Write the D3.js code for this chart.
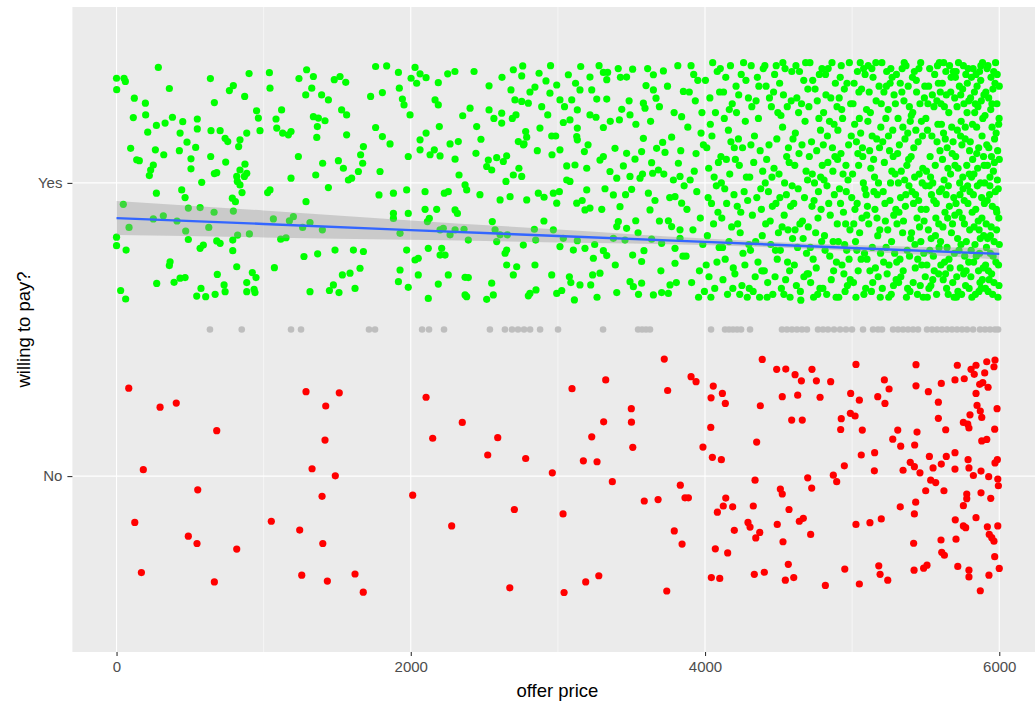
<!DOCTYPE html>
<html>
<head>
<meta charset="utf-8">
<script src="https://cdn.jsdelivr.net/npm/d3@7"></script>
<style>
  body { margin: 0; background: #ffffff; }
  svg { display: block; font-family: "Liberation Sans", Arial, sans-serif; }
</style>
</head>
<body>
<svg id="chart" width="1035" height="703"></svg>
<script>
// ---- values ----
const priceTicks = [0, 2000, 4000, 6000];
const priceMinor = [1000, 3000, 5000];
const answerLevels = ["No", "Yes"];   // drawn at 1 and 2
const midLevel = 1.5;

// grey row of offers between the two answers
const midPrices = [635, 851, 1186, 1254, 1716, 1757, 2077, 2124, 2226, 2538, 2640, 2688, 2729, 2770, 2811,
  2879, 3001, 3307, 3545, 3572, 3599, 3626, 4041, 4136, 4163, 4190, 4218, 4245, 4306, 4523, 4557, 4591,
  4625, 4659, 4693, 4768, 4802, 4836, 4877, 4918, 4958, 4999, 5074, 5142, 5176, 5203, 5278, 5312, 5346,
  5380, 5414, 5448, 5509, 5543, 5577, 5611, 5645, 5679, 5713, 5747, 5781, 5822, 5869, 5903, 5937, 5971, 5992];

// [offer price, jittered answer] for the "No" answers
const noPoints = [
  [83,1.300],[296,1.235],[406,1.249],[681,1.155],[182,1.022],[552,0.953],[124,0.842],[488,0.795],[547,0.770],[817,0.751],[169,0.671],[665,0.639],
  [1288,1.288],[1514,1.284],[1422,1.239],[1417,1.123],[1329,1.025],[1487,1.001],[1397,0.931],[1052,0.846],[1245,0.816],[1402,0.770],[1259,0.662],[1433,0.642],
  [2104,1.269],[2350,1.183],[2149,1.129],[2591,1.131],[2523,1.072],[2781,1.060],[2962,1.011],[3096,1.298],[3325,1.328],[3311,1.185],[3230,1.134],
  [3173,1.052],[3266,1.049],[3499,1.230],[3500,1.184],[3509,1.098],[3370,0.981],[3723,1.399],[3746,1.292],[3832,0.969],[3864,0.926],[3887,0.926],
  [3587,0.915],[3681,0.920],[2013,0.935],[2704,0.886],[3035,0.871],[2278,0.830],[3791,0.813],[3844,0.768],[1621,0.666],[1677,0.604],[2673,0.619],
  [3042,0.603],[3189,0.639],[3278,0.660],[3740,0.608],
  [3905,1.339],[3939,1.322],[4056,1.307],[4041,1.267],[4118,1.282],[4138,1.248],[4389,1.398],[4376,1.240],[4039,1.166],[3986,1.099],[4050,1.064],
  [4111,1.056],[4351,1.116],[4487,1.364],[4549,1.365],[4612,1.346],[4655,1.325],[4727,1.364],[4757,1.325],[4854,1.322],[4525,1.271],[4630,1.276],
  [4782,1.269],[4589,1.191],[4661,1.191],[5026,1.381],[4990,1.282],[5049,1.259],[5174,1.271],[5219,1.328],[5251,1.297],[5223,1.248],[4926,1.196],
  [4922,1.159],[4988,1.214],[5020,1.205],[5069,1.157],[5310,1.157],[5276,1.126],[5330,1.102],[5434,1.380],[5434,1.308],[5518,1.288],[5606,1.316],
  [5586,1.252],[5586,1.197],[5636,1.158],[5441,1.150],[5425,1.106],[5715,1.378],[5699,1.328],[5762,1.332],[5808,1.364],[5842,1.378],[5830,1.347],
  [5901,1.352],[5915,1.390],[5971,1.396],[5964,1.373],[5867,1.313],[5888,1.319],[5842,1.282],[5924,1.303],[5849,1.241],[5871,1.222],[5881,1.200],
  [5801,1.209],[5756,1.183],[5794,1.164],[5786,1.177],[5985,1.230],[5969,1.160],[5881,1.120],[5915,1.125],[5987,1.056],[5971,1.045],[5062,1.072],
  [5153,1.080],[5151,1.018],[4947,1.035],[5346,1.020],[5395,1.047],[5423,1.032],[5461,1.011],[5525,1.067],[5550,1.028],[5606,1.041],[5640,1.067],
  [5699,1.080],[5699,1.024],[5788,1.056],[5794,1.028],[5824,1.002],[5876,1.017],[5928,0.998],[5990,0.990],[5994,0.967],[5534,0.986],[5568,0.978],
  [5500,0.950],[5624,0.950],[5779,0.939],[5779,0.923],[5876,0.943],[5942,0.924],[4698,0.994],[4725,0.959],[4872,1.003],[4895,0.981],[4340,0.986],
  [4512,0.956],[4525,0.939],[4141,0.925],[4124,0.898],[4084,0.877],[4188,0.895],[4328,0.898],[4571,0.886],[4641,0.846],[4668,0.856],[4491,0.835],
  [4292,0.842],[4306,0.826],[4199,0.815],[4372,0.808],[4345,0.789],[4530,0.776],[4718,0.801],[5327,0.895],[5432,0.911],[5423,0.871],[5026,0.835],
  [5121,0.841],[5198,0.854],[5756,0.899],[5701,0.851],[5756,0.830],[5772,0.824],[5842,0.858],[5919,0.827],[5990,0.830],[5932,0.801],[5949,0.790],
  [5964,0.778],[5604,0.782],[5418,0.771],[5706,0.785],[5609,0.740],[5627,0.730],[5969,0.725],[4070,0.752],[4154,0.738],[4043,0.654],[4100,0.651],
  [4335,0.665],[4403,0.672],[4566,0.699],[4546,0.645],[4603,0.654],[4818,0.627],[4950,0.683],[5049,0.632],[5181,0.694],[5190,0.665],[5242,0.645],
  [5421,0.679],[5486,0.686],[5509,0.696],[5718,0.692],[5794,0.679],[5794,0.656],[5871,0.609],[5930,0.662],[6000,0.685]
];

// [offer price, jittered answer] for the "Yes" answers
const yesPoints = [
  [0,2.357],[51,2.357],[1,2.318],[60,2.346],[284,2.394],[121,2.289],[196,2.272],[114,2.223],[198,2.232],[271,2.196],[330,2.204],[380,2.224],
  [450,2.209],[549,2.218],[549,2.184],[212,2.173],[432,2.170],[638,2.356],[794,2.332],[901,2.373],[1039,2.376],[1043,2.323],[767,2.315],[359,2.322],
  [871,2.295],[665,2.274],[952,2.246],[964,2.221],[1122,2.249],[1084,2.218],[1089,2.187],[1129,2.170],[1168,2.164],[1186,2.175],[975,2.178],
  [885,2.170],[642,2.178],[704,2.178],[738,2.152],[756,2.141],[839,2.147],[830,2.124],[1240,2.356],[1292,2.386],[1338,2.363],[1480,2.352],
  [1519,2.363],[1558,2.343],[1286,2.300],[1327,2.323],[1394,2.300],[1440,2.283],[1530,2.249],[1338,2.226],[1372,2.221],[1417,2.212],[1365,2.192],
  [1361,2.155],[1564,2.164],[1564,2.232],[96,2.118],[137,2.079],[155,2.076],[264,2.113],[321,2.096],[427,2.110],[479,2.139],[538,2.121],[250,2.061],
  [232,2.044],[223,2.025],[506,2.082],[506,2.048],[640,2.090],[742,2.071],[873,2.064],[839,2.044],[885,2.033],[869,2.022],[817,2.022],[821,2.005],
  [839,1.993],[579,2.002],[665,2.032],[681,2.035],[1236,2.090],[1401,2.067],[1508,2.076],[1542,2.050],[1354,2.027],[1186,2.016],[1576,2.010],
  [271,1.965],[443,1.976],[466,1.950],[488,1.914],[568,1.916],[663,1.900],[794,1.904],[787,1.948],[808,1.936],[853,1.967],[1027,1.967],[1043,1.976],
  [1288,1.936],[1440,1.984],[46,1.927],[85,1.848],[250,1.877],[318,1.888],[411,1.870],[627,1.848],[470,1.836],[488,1.807],[568,1.777],[590,1.788],
  [681,1.802],[704,1.794],[790,1.805],[823,1.822],[903,1.826],[1066,1.877],[1175,1.871],[1202,1.885],[1265,1.848],[1315,1.865],[1399,1.840],
  [1116,1.808],[1152,1.813],[0,1.815],[0,1.786],[65,1.771],[790,1.769],[1274,1.749],[1367,1.758],[1485,1.771],[364,1.731],[359,1.718],[817,1.714],
  [923,1.694],[948,1.677],[1073,1.711],[273,1.657],[391,1.661],[432,1.675],[466,1.677],[685,1.688],[574,1.640],[606,1.612],[545,1.614],[670,1.620],
  [731,1.652],[738,1.629],[885,1.660],[885,1.629],[935,1.637],[941,1.626],[1315,1.629],[1474,1.652],[1447,1.633],[1512,1.626],[1535,1.686],
  [28,1.633],[62,1.604],
  [1761,2.397],[1836,2.399],[1916,2.377],[2029,2.394],[2063,2.372],[2104,2.359],[2002,2.357],[2040,2.340],[2187,2.342],[2251,2.372],[1922,2.323],
  [1807,2.308],[1727,2.295],[1943,2.286],[1954,2.266],[2165,2.283],[2187,2.266],[1995,2.232],[2194,2.192],[1761,2.189],[1807,2.158],[1859,2.133],
  [1678,2.124],[1659,2.096],[1673,2.067],[1644,2.039],[1598,2.016],[1791,2.039],[1983,2.090],[2063,2.147],[2104,2.170],[2063,2.113],[2131,2.096],
  [2160,2.113],[2199,2.092],[2267,2.133],[2323,2.141],[2301,2.081],[2353,2.229],[2403,2.255],[2448,2.192],[2477,2.149],[2443,2.101],[2516,2.056],
  [2527,2.078],[2550,2.044],[2584,2.086],[2652,2.092],[2629,2.073],[2618,2.238],[2618,2.204],[2532,2.331],[2532,2.249],[2697,2.386],[2761,2.399],
  [2754,2.365],[2681,2.317],[2708,2.283],[2754,2.278],[2799,2.272],[2715,2.232],[2781,2.175],[2731,2.141],[2765,2.130],[2878,2.187],[2931,2.232],
  [2872,2.374],[2919,2.348],[2844,2.327],[2946,2.306],[2992,2.334],[3071,2.369],[3155,2.397],[3218,2.361],[3150,2.317],[3230,2.317],[3309,2.377],
  [3332,2.352],[3338,2.377],[3264,2.286],[3332,2.286],[3467,2.361],[3508,2.388],[3599,2.332],[3649,2.317],[3667,2.289],[3717,2.382],[3649,2.369],
  [3581,2.272],[3592,2.255],[3434,2.251],[3490,2.232],[3418,2.215],[3309,2.189],[3218,2.232],[3259,2.224],[3132,2.249],[3132,2.187],[3082,2.215],
  [3037,2.206],[3094,2.283],[3014,2.283],[3128,2.158],[3132,2.147],[2958,2.160],[2960,2.096],[3014,2.113],[3060,2.058],[3116,2.061],[3060,2.010],
  [3082,2.005],[3196,2.050],[3180,2.107],[3309,2.090],[3354,2.039],[3286,2.078],[3388,2.118],[3467,2.101],[3445,2.058],[3524,2.081],[3581,2.152],
  [3569,2.107],[3490,2.022],[3400,2.016],[3501,1.978],[3558,2.016],[3637,2.069],[3712,2.138],[3728,2.104],[3773,2.156],[3785,2.010],[3830,2.022],
  [3819,2.067],[3853,2.312],[3841,2.226],[3671,2.118],[3683,2.044],[3644,2.033],[3796,1.953],[3841,1.931],[3751,1.871],[3773,1.851],[3830,1.840],
  [3626,1.908],[3615,1.965],[3422,1.919],[3377,1.959],[3196,1.976],[3218,1.914],[3184,1.908],[3298,1.910],[3128,1.931],[2969,1.965],[2867,1.965],
  [2906,1.951],[2992,1.931],[2788,1.942],[2788,2.156],[2770,2.133],[2697,2.027],[2754,2.022],[2647,2.005],[2675,1.953],[2607,1.942],[2369,1.993],
  [2328,2.027],[2228,1.965],[2255,1.970],[2380,1.976],[2097,1.970],[1972,1.976],[1882,1.965],[1784,1.959],[1882,1.896],[1983,1.896],[1882,1.879],
  [2097,1.910],[2176,1.910],[2301,1.908],[2317,1.896],[2199,1.840],[2126,1.879],[2113,1.868],[2221,1.845],[2267,1.823],[2362,1.842],[2391,1.805],
  [2301,1.840],[2554,1.868],[2573,1.840],[2607,1.823],[2584,1.800],[2656,1.823],[2765,1.788],[2840,1.842],[2849,1.805],[2969,1.840],[3014,1.783],
  [3037,1.811],[3132,1.803],[3105,1.771],[3184,1.777],[3241,1.743],[3309,1.769],[3332,1.752],[3377,1.811],[3411,1.868],[3400,1.851],[3467,1.845],
  [3529,1.871],[3456,1.805],[3508,1.754],[3585,1.769],[3637,1.808],[3569,1.732],[3830,1.811],[3796,1.777],[3705,1.794],[3796,1.726],[3762,1.652],
  [3751,1.623],[3705,1.626],[3649,1.618],[3569,1.658],[3513,1.646],[3490,1.663],[3400,1.626],[3286,1.692],[3236,1.686],[3223,1.652],[3150,1.652],
  [3112,1.601],[3078,1.680],[3026,1.633],[2992,1.623],[2958,1.686],[2851,1.635],[2810,1.623],[2799,1.615],[2844,1.720],[2720,1.714],[2652,1.771],
  [2652,1.720],[2641,1.760],[2697,1.686],[2550,1.658],[2516,1.603],[2561,1.618],[2369,1.678],[2391,1.677],[2380,1.612],[2369,1.618],[2255,1.686],
  [2187,1.655],[2210,1.777],[2199,1.754],[2233,1.754],[2119,1.777],[2051,1.743],[2051,1.686],[2029,1.737],[1927,1.703],[1916,1.663],[1983,1.644],
  [2119,1.606],[1655,1.709],[1621,1.640],[1610,1.771],[1587,1.692],[1678,1.766],[1972,1.771],[1927,1.828],
  [2620,2.36],[2690,2.22],[2735,2.05],[2810,2.31],[2860,2.11],[2905,1.87],[2950,2.40],[2985,2.16],[3010,1.97],[3045,2.26],[3088,1.66],[3120,2.34],
  [3165,1.94],[3205,2.13],[3250,1.79],[3280,2.40],[3320,1.98],[3356,2.21],[3390,1.72],[3425,2.36],[3460,1.96],[3484,2.28],[3530,2.20],[3545,1.83],
  [3575,2.03],[3610,2.39],[3630,2.21],[3660,1.94],[3690,2.26],[3700,1.70],[3720,2.03],[3745,2.33],[3760,1.95],[3790,2.24],[3805,1.66],[3815,2.40],
  [3835,2.11],[3850,1.75],[3858,1.99],[3690,1.87],[3548,1.62],[3266,1.61],[3410,2.39],[2890,2.26],[2565,2.22],[2470,1.96],[2430,2.38],[2300,2.38],
  [3934,2.28],[3877,1.91],[3962,1.70],[3905,2.40],[3989,2.13],[3918,1.84],[3883,2.19],[3951,2.35],[3996,1.63],[3927,2.04],[3871,1.75],[3944,1.97],
  [3979,2.24],[3909,1.66],[3893,2.31],[3968,1.88],[3939,2.10],[3985,1.79],[3899,2.01],[3956,1.61],[3923,2.37],[3973,2.17],
  [4047,2.16],[4008,1.72],[4083,2.38],[4021,1.95],[4066,1.64],[4091,2.07],[4033,2.29],[4012,2.12],[4058,1.86],[4077,1.99],[4040,1.61],[4096,1.78],
  [4003,2.35],[4071,2.24],[4027,1.68],[4052,2.41],[4088,1.90],[4016,1.82],[4062,2.02],[4036,2.20],[4081,1.73],[4044,1.93],[4099,2.31],[4025,2.05],
  [4122,1.67],[4185,2.27],[4108,2.09],[4163,1.80],[4141,2.36],[4197,1.96],[4114,1.88],[4176,2.14],[4153,1.62],[4131,2.22],[4192,1.71],[4104,2.39],
  [4168,2.03],[4147,1.93],[4126,2.31],[4181,1.85],[4159,2.18],[4137,1.74],[4111,2.00],[4173,2.40],[4189,1.64],[4145,2.08],[4119,1.78],[4165,2.25],
  [4134,1.98],[4199,2.12],
  [4211,2.33],[4258,1.76],[4233,2.06],[4287,1.61],[4219,1.92],[4274,2.21],[4246,2.37],[4203,1.69],[4266,1.97],[4239,1.83],[4295,2.29],[4227,2.15],
  [4251,1.65],[4281,2.02],[4214,2.24],[4262,2.41],[4243,1.90],[4298,1.79],[4206,2.08],[4271,1.72],[4229,2.30],[4255,2.12],[4290,1.94],[4236,1.62],
  [4278,2.35],[4222,1.86],
  [4304,2.02],[4341,1.68],[4366,2.33],[4318,2.26],[4389,1.82],[4352,1.95],[4327,1.63],[4375,2.11],[4309,1.77],[4396,2.39],[4336,2.16],[4360,1.73],
  [4314,2.40],[4383,1.91],[4347,2.28],[4322,1.89],[4371,1.61],[4392,2.04],[4331,2.07],[4356,2.36],[4301,1.64],[4379,1.98],[4344,1.80],[4363,2.22],
  [4386,1.70],[4312,2.13],
  [4426,1.66],[4473,2.37],[4412,1.86],[4455,2.02],[4491,1.74],[4438,2.29],[4407,2.40],[4482,1.93],[4461,1.62],[4419,2.08],[4447,1.79],[4495,2.24],
  [4431,1.97],[4466,2.31],[4403,1.70],[4488,2.15],[4443,1.87],[4476,1.68],[4415,2.33],[4458,1.92],[4499,1.83],[4435,2.13],[4469,2.05],[4422,1.61],
  [4484,2.40],[4451,2.26],[4409,2.00],[4479,1.77],
  [4538,1.89],[4507,2.34],[4572,2.07],[4519,1.64],[4586,2.28],[4544,2.39],[4561,1.73],[4503,2.03],[4595,1.81],[4527,2.19],[4553,1.96],[4578,1.61],
  [4512,1.77],[4533,2.30],[4567,2.12],[4590,2.38],[4548,1.67],[4516,2.23],[4582,1.92],[4541,2.00],[4598,2.15],[4524,1.85],[4559,2.26],[4509,1.95],
  [4575,1.70],[4536,1.62],[4564,1.84],[4592,1.99],[4529,2.41],[4555,2.09],
  [4614,2.17],[4648,1.63],[4603,1.93],[4671,2.35],[4629,1.78],[4687,2.04],[4656,2.27],[4618,2.40],[4694,1.69],[4639,2.10],[4662,1.87],[4607,1.72],
  [4680,2.21],[4633,1.98],[4651,1.60],[4699,2.32],[4624,2.29],[4667,1.81],[4642,2.38],[4676,1.95],[4610,2.06],[4690,1.76],[4645,1.86],[4621,1.65],
  [4659,2.13],[4684,2.41],[4636,2.24],[4672,1.68],[4697,2.01],[4612,1.84],
  [4706,2.26],[4741,1.94],[4777,2.37],[4718,1.66],[4759,2.11],[4793,1.80],[4729,2.03],[4766,1.62],[4702,1.85],[4748,2.32],[4785,2.18],[4735,1.74],
  [4713,2.41],[4771,1.97],[4756,1.71],[4797,2.06],[4724,2.14],[4789,1.91],[4744,2.00],[4709,2.09],[4763,2.28],[4781,1.64],[4732,2.35],[4752,1.83],
  [4716,1.78],[4774,2.22],[4738,1.61],[4795,2.39],[4727,1.92],[4768,1.88],[4703,1.69],[4786,2.02],
  [4822,2.30],[4858,1.67],[4804,2.13],[4879,1.96],[4837,2.39],[4893,1.73],[4812,1.82],[4846,2.21],[4869,2.04],[4827,1.62],[4886,2.34],[4809,2.01],
  [4851,1.89],[4874,1.70],[4832,2.16],[4897,2.26],[4816,1.77],[4863,2.41],[4841,1.93],[4883,2.09],[4801,1.64],[4855,2.29],[4829,1.99],[4871,1.80],
  [4891,1.61],[4819,2.37],[4848,1.75],[4866,2.12],[4835,2.07],[4877,2.20],[4806,2.24],[4899,1.86],
  [4914,1.98],[4947,2.32],[4968,1.65],[4903,2.18],[4985,1.84],[4926,2.40],[4958,2.06],[4931,1.72],[4990,2.27],[4909,1.61],[4976,2.13],[4941,1.90],
  [4919,2.36],[4963,1.77],[4997,1.95],[4935,2.22],[4952,1.63],[4981,2.41],[4906,1.80],[4972,2.01],[4924,2.10],[4944,1.69],[4994,2.16],[4912,2.29],
  [4956,1.86],[4938,2.03],[4979,1.74],[4921,1.93],[4965,2.34],[4901,2.08],[4949,1.79],[4987,1.67],[4929,2.25],[4960,1.97],
  [5017,2.20],[5061,1.74],[5034,1.93],[5088,2.37],[5009,1.66],[5072,2.09],[5046,2.31],[5023,1.80],[5095,1.96],[5055,2.41],[5003,2.03],[5080,1.62],
  [5029,2.14],[5067,1.88],[5041,1.70],[5098,2.25],[5013,2.34],[5076,2.00],[5051,1.83],[5036,2.38],[5084,1.76],[5019,1.91],[5058,2.17],[5092,1.64],
  [5006,2.27],[5070,2.12],[5044,2.06],[5026,1.61],[5064,2.32],[5086,1.98],[5032,1.77],[5049,2.22],[5011,1.86],[5078,2.39],[5099,1.89],[5039,2.10],
  [5104,1.92],[5142,2.36],[5177,1.68],[5119,2.11],[5163,2.28],[5188,1.84],[5131,1.63],[5152,2.02],[5195,2.19],[5109,2.40],[5171,1.96],[5137,1.78],
  [5183,2.33],[5124,2.24],[5158,1.71],[5146,2.08],[5191,1.61],[5113,1.86],[5167,2.15],[5134,2.39],[5179,2.00],[5101,1.74],[5155,1.91],[5127,2.05],
  [5198,2.27],[5140,1.66],[5174,1.82],[5116,2.31],[5161,2.41],[5186,2.12],[5148,1.97],[5121,1.70],[5169,1.88],[5193,1.76],[5107,2.21],[5136,2.16],
  [5226,1.87],[5263,2.39],[5208,2.14],[5281,1.65],[5245,2.25],[5292,2.03],[5214,1.73],[5257,1.94],[5233,2.33],[5276,2.18],[5202,2.41],[5249,1.61],
  [5268,1.80],[5219,2.07],[5297,1.91],[5238,1.69],[5285,2.30],[5254,2.11],[5211,1.97],[5272,2.36],[5229,2.22],[5289,1.76],[5242,1.84],[5261,2.00],
  [5205,1.64],[5279,2.09],[5235,2.38],[5251,1.72],[5223,1.93],[5294,2.27],[5266,1.62],[5216,2.31],[5247,2.16],[5283,1.89],[5231,1.78],[5270,2.04],
  [5299,1.67],[5258,2.34],
  [5312,2.22],[5347,1.70],[5384,2.08],[5305,1.86],[5366,2.40],[5329,1.95],[5393,1.63],[5338,2.31],[5321,2.13],[5374,1.77],[5357,2.01],[5301,2.37],
  [5389,2.26],[5343,1.83],[5316,1.66],[5362,1.92],[5378,2.17],[5334,2.04],[5398,1.81],[5325,1.74],[5352,2.28],[5369,1.61],[5309,2.10],[5386,1.99],
  [5340,2.39],[5318,1.90],[5359,2.15],[5381,2.33],[5331,1.68],[5395,2.21],[5349,1.87],[5372,2.06],[5303,1.73],[5365,1.96],[5327,2.34],[5390,1.75],
  [5354,2.41],[5314,2.00],[5377,1.64],[5345,2.19],
  [5407,1.97],[5436,2.35],[5473,1.72],[5419,2.12],[5458,1.85],[5491,2.29],[5444,1.62],[5412,2.24],[5480,2.05],[5427,1.79],[5466,2.41],[5401,2.09],
  [5452,1.94],[5497,1.68],[5433,2.18],[5476,2.00],[5415,1.66],[5461,2.27],[5441,1.88],[5487,1.76],[5423,2.38],[5469,1.91],[5404,1.83],[5449,2.14],
  [5494,2.33],[5429,1.71],[5456,2.03],[5483,1.61],[5417,1.93],[5471,2.21],[5438,2.31],[5499,1.99],[5446,1.74],[5410,2.36],[5463,1.65],[5478,2.16],
  [5425,2.02],[5454,2.39],[5489,1.87],[5431,1.96],[5467,1.80],[5402,2.23],
  [5512,2.18],[5548,1.67],[5586,2.34],[5503,1.91],[5565,2.06],[5527,2.39],[5591,1.78],[5539,1.96],[5574,1.62],[5518,1.84],[5556,2.26],[5597,2.11],
  [5533,2.02],[5508,1.72],[5580,2.40],[5545,2.30],[5569,1.88],[5522,1.64],[5594,1.97],[5552,1.75],[5515,2.27],[5577,2.14],[5537,1.81],[5561,2.37],
  [5501,2.22],[5588,1.69],[5530,2.09],[5572,1.93],[5548,2.00],[5511,1.61],[5583,2.20],[5525,1.99],[5558,1.70],[5599,2.31],[5542,2.16],[5520,2.33],
  [5566,1.82],[5505,2.04],[5589,1.86],[5535,1.65],[5576,2.28],[5555,1.94],[5528,1.77],[5593,2.41],
  [5604,2.27],[5635,1.69],[5669,2.03],[5617,1.85],[5688,2.38],[5646,2.12],[5622,2.41],[5695,1.76],[5653,1.62],[5609,1.98],[5677,2.19],[5640,2.30],
  [5628,1.73],[5661,1.92],[5699,2.06],[5613,2.34],[5684,1.66],[5649,1.88],[5633,2.15],[5673,2.36],[5601,1.80],[5657,2.24],[5691,1.95],[5625,2.01],
  [5666,1.71],[5642,1.64],[5680,2.10],[5607,2.20],[5637,2.38],[5697,2.29],[5654,1.99],[5619,1.67],[5675,1.83],[5631,1.90],[5662,2.40],[5686,2.14],
  [5614,2.08],[5645,1.78],[5693,1.61],[5627,2.26],[5670,2.31],[5651,2.05],[5603,1.72],[5682,1.86],[5639,1.96],[5658,1.74],[5621,2.17],[5698,1.89],
  [5706,1.93],[5738,2.30],[5771,1.65],[5715,2.18],[5752,2.02],[5789,2.39],[5726,1.77],[5763,1.86],[5798,2.11],[5702,2.36],[5744,1.62],[5781,2.24],
  [5720,2.05],[5756,2.40],[5792,1.73],[5733,1.96],[5768,2.15],[5711,1.68],[5749,1.88],[5785,1.99],[5729,2.33],[5776,1.80],[5741,2.21],[5795,1.64],
  [5717,1.81],[5760,2.27],[5704,2.09],[5735,1.71],[5773,2.37],[5746,2.13],[5787,1.93],[5723,2.41],[5765,1.75],[5709,1.61],[5754,1.98],[5793,2.28],
  [5731,2.00],[5779,2.06],[5713,2.26],[5758,1.69],[5799,1.84],[5740,1.79],[5783,2.34],[5727,1.90],[5769,2.19],[5719,1.63],[5751,2.32],[5796,2.03],
  [5737,2.16],[5775,1.70],[5707,2.38],[5762,1.94],
  [5803,2.14],[5838,1.62],[5874,2.35],[5816,1.90],[5855,2.26],[5891,1.71],[5822,2.39],[5863,1.84],[5897,2.06],[5809,1.77],[5846,2.19],[5880,1.95],
  [5831,2.31],[5869,1.66],[5812,2.02],[5851,1.99],[5886,2.41],[5826,1.73],[5860,2.12],[5894,1.82],[5805,2.29],[5842,2.37],[5877,1.64],[5819,2.08],
  [5857,1.87],[5888,2.22],[5835,1.79],[5872,2.00],[5814,1.61],[5849,2.33],[5883,2.16],[5828,2.03],[5866,2.38],[5899,1.93],[5807,1.68],[5844,1.75],
  [5878,2.28],[5824,1.96],[5859,1.70],[5893,2.09],[5833,2.24],[5871,1.81],[5811,2.36],[5853,2.05],[5885,1.67],[5840,1.91],[5875,2.40],[5818,2.20],
  [5862,1.63],[5896,2.30],[5829,1.85],[5866,1.76],[5801,1.97],[5847,2.10],[5882,1.88],[5837,2.27],
  [5903,2.23],[5931,1.67],[5962,2.38],[5918,1.94],[5947,2.09],[5977,1.73],[5909,2.31],[5940,1.82],[5968,2.15],[5993,1.98],[5923,2.40],[5955,1.62],
  [5984,2.27],[5913,1.78],[5937,2.02],[5971,2.34],[5997,1.88],[5926,1.70],[5951,2.19],[5980,1.91],[5906,1.64],[5944,2.36],[5965,1.80],[5989,2.11],
  [5920,2.06],[5958,1.75],[5975,2.41],[5999,2.22],[5934,1.96],[5915,2.13],[5948,1.69],[5982,1.84],[5928,2.29],[5960,2.04],[5991,1.61],[5911,1.86],
  [5942,2.25],[5973,1.97],[6000,2.33],[5924,1.63],[5953,1.92],[5986,2.37],[5901,2.00],[5939,1.76],[5967,2.07],[5995,1.72],[5917,2.39],[5945,1.85],
  [5979,2.17],[6000,1.79],[5929,2.12],[5957,2.32],[5987,2.01],[5907,1.72],[5936,1.99],[5964,1.66],[5996,2.20],[5921,1.81],[5950,2.27],[5983,1.90],
  [6000,2.08],[5998,1.65]
];

// linear fit and its confidence band, read along the price axis
const smoothPrice = [0, 1000, 2000, 3000, 4000, 5000, 6000];
const smoothFit   = [1.880, 1.860, 1.839, 1.819, 1.799, 1.778, 1.758];
const smoothHalf  = [0.058, 0.046, 0.033, 0.022, 0.011, 0.010, 0.019];

// ---- layout ----
const svg = d3.select("#chart");
const panel = { left: 72.4, right: 1043.4, top: 7, bottom: 652 };
const dotRadius = 3.6;

const x = d3.scaleLinear().domain([-300, 6300]).range([panel.left, panel.right]);
const y = d3.scaleLinear().domain([0.4, 2.6]).range([panel.bottom, panel.top]);

// panel background
svg.append("rect")
    .attr("x", panel.left)
    .attr("y", panel.top)
    .attr("width", panel.right - panel.left)
    .attr("height", panel.bottom - panel.top)
    .attr("fill", "#EBEBEB");

// grid lines, minor first
const grid = svg.append("g");
grid.selectAll(".minor")
    .data(priceMinor)
    .enter().append("line")
    .attr("x1", d => x(d)).attr("x2", d => x(d))
    .attr("y1", panel.top).attr("y2", panel.bottom)
    .attr("stroke", "#ffffff").attr("stroke-width", 0.55);
grid.selectAll(".major")
    .data(priceTicks)
    .enter().append("line")
    .attr("x1", d => x(d)).attr("x2", d => x(d))
    .attr("y1", panel.top).attr("y2", panel.bottom)
    .attr("stroke", "#ffffff").attr("stroke-width", 1.1);
grid.selectAll(".hmajor")
    .data([1, 2])
    .enter().append("line")
    .attr("x1", panel.left).attr("x2", panel.right)
    .attr("y1", d => y(d)).attr("y2", d => y(d))
    .attr("stroke", "#ffffff").attr("stroke-width", 1.1);

// grey row in the middle
svg.append("g").selectAll("circle")
    .data(midPrices)
    .enter().append("circle")
    .attr("cx", d => x(d))
    .attr("cy", y(midLevel))
    .attr("r", 3.3)
    .attr("fill", "#BEBEBE");

// jittered answers
svg.append("g").selectAll("circle")
    .data(yesPoints)
    .enter().append("circle")
    .attr("cx", d => x(d[0]))
    .attr("cy", d => y(d[1]))
    .attr("r", dotRadius)
    .attr("fill", "#00FF00");

svg.append("g").selectAll("circle")
    .data(noPoints)
    .enter().append("circle")
    .attr("cx", d => x(d[0]))
    .attr("cy", d => y(d[1]))
    .attr("r", dotRadius)
    .attr("fill", "#FF0000");

// smoother: band then line
const smooth = smoothPrice.map((p, i) => ({ p: p, fit: smoothFit[i], half: smoothHalf[i] }));

svg.append("path")
    .datum(smooth)
    .attr("d", d3.area()
        .x(d => x(d.p))
        .y0(d => y(d.fit - d.half))
        .y1(d => y(d.fit + d.half))
        .curve(d3.curveMonotoneX))
    .attr("fill", "#999999")
    .attr("fill-opacity", 0.4);

svg.append("path")
    .datum(smooth)
    .attr("d", d3.line().x(d => x(d.p)).y(d => y(d.fit)))
    .attr("fill", "none")
    .attr("stroke", "#3366FF")
    .attr("stroke-width", 2.4);

// axes
const xAxis = svg.append("g")
    .attr("transform", "translate(0," + panel.bottom + ")")
    .call(d3.axisBottom(x).tickValues(priceTicks).tickFormat(d3.format("d")).tickSize(4).tickPadding(5));

const yAxis = svg.append("g")
    .attr("transform", "translate(" + panel.left + ",0)")
    .call(d3.axisLeft(y).tickValues([1, 2]).tickFormat(d => answerLevels[d - 1]).tickSize(5).tickPadding(5));

[xAxis, yAxis].forEach(function(a) {
    a.select(".domain").remove();
    a.selectAll(".tick line").attr("stroke", "#333333").attr("stroke-width", 1.1);
    a.selectAll(".tick text")
        .attr("fill", "#4D4D4D")
        .style("font-size", "15px")
        .style("font-family", "'Liberation Sans', Arial, sans-serif");
});

// axis titles
svg.append("text")
    .attr("x", (panel.left + 1043.4) / 2 - 0.5)
    .attr("y", 697)
    .attr("text-anchor", "middle")
    .style("font-size", "18.5px")
    .attr("fill", "#000000")
    .text("offer price");

svg.append("text")
    .attr("transform", "translate(30," + ((panel.top + panel.bottom) / 2) + ") rotate(-90)")
    .attr("text-anchor", "middle")
    .style("font-size", "18.5px")
    .attr("fill", "#000000")
    .text("willing to pay?");
</script>
</body>
</html>
